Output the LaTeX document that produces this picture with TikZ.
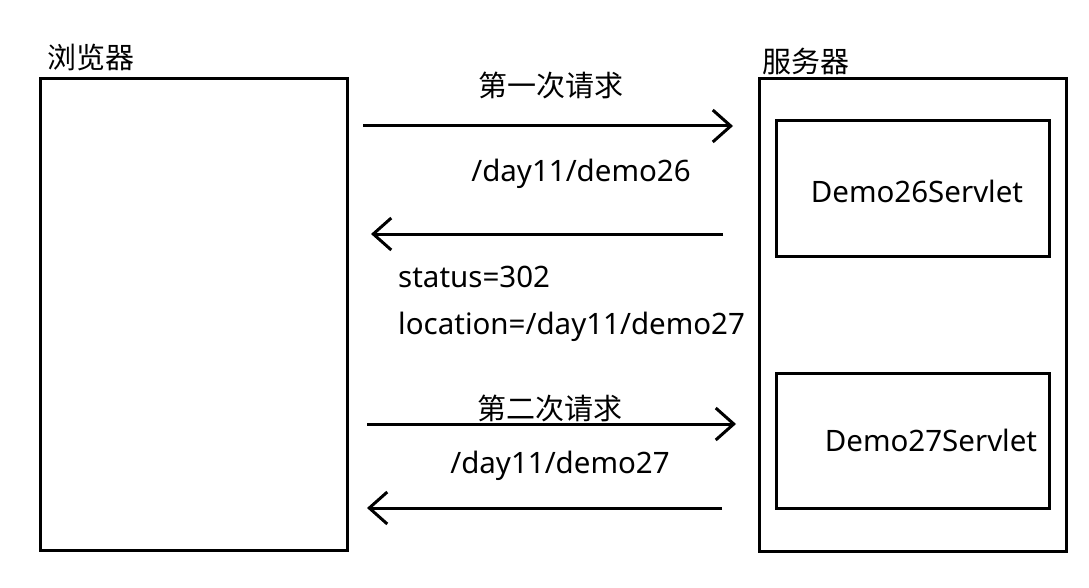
\documentclass[tikz,border=0pt]{standalone}
\usepackage{fontspec}
\setmainfont{Noto Sans}
\newfontfamily\cjk{Noto Sans CJK SC}
\usetikzlibrary{arrows.meta}
\begin{document}
\begin{tikzpicture}[x=1pt,y=-1pt,
  box/.style={draw, line width=3pt, inner sep=0pt},
  conn/.style={line width=3pt, -{Straight Barb[length=18pt,width=32pt,line width=3pt]}},
  lat/.style={inner sep=0pt, font=\fontsize{29.5}{32}\selectfont},
  han/.style={inner sep=0pt, font=\cjk\fontsize{29}{32}\selectfont}]
\useasboundingbox (0,0) rectangle (1089,588);
% boxes
\node[box, minimum width=307pt, minimum height=471pt] (browser) at (193.5,314.5) {};
\node[box, minimum width=307pt, minimum height=472pt] (server) at (912.5,315) {};
\node[box, minimum width=273pt, minimum height=135pt] (d26) at (912.5,188.5) {};
\node[box, minimum width=273pt, minimum height=135pt] (d27) at (912.5,440.5) {};
% titles
\node[han] (tb) at (91,57) {浏览器};
\node[han] (ts) at (806,61) {服务器};
\node[lat] (l26) at (917,191) {Demo26Servlet};
\node[lat] (l27) at (931,440) {Demo27Servlet};
% connector end points
\coordinate (a1s) at (363,126);
\coordinate (a1e) at (733,126);
\coordinate (a2s) at (723,234);
\coordinate (a2e) at (371,234);
\coordinate (a3s) at (367,424);
\coordinate (a3e) at (736,424);
\coordinate (a4s) at (722,508);
\coordinate (a4e) at (367,508);
\draw[conn] (a1s) -- (a1e);
\draw[conn] (a2s) -- (a2e);
\draw[conn] (a3s) -- (a3e);
\draw[conn] (a4s) -- (a4e);
% labels
\node[han] (q1) at (551,85) {第一次请求};
\node[lat] (p1) at (581,174) {/day11/demo26};
\node[lat, anchor=west] (st) at (398,277) {status=302};
\node[lat, anchor=west] (loc) at (398,327) {location=/day11/demo27};
\node[han] (q2) at (550,408) {第二次请求};
\node[lat] (p2) at (560,466) {/day11/demo27};
\end{tikzpicture}
\end{document}
